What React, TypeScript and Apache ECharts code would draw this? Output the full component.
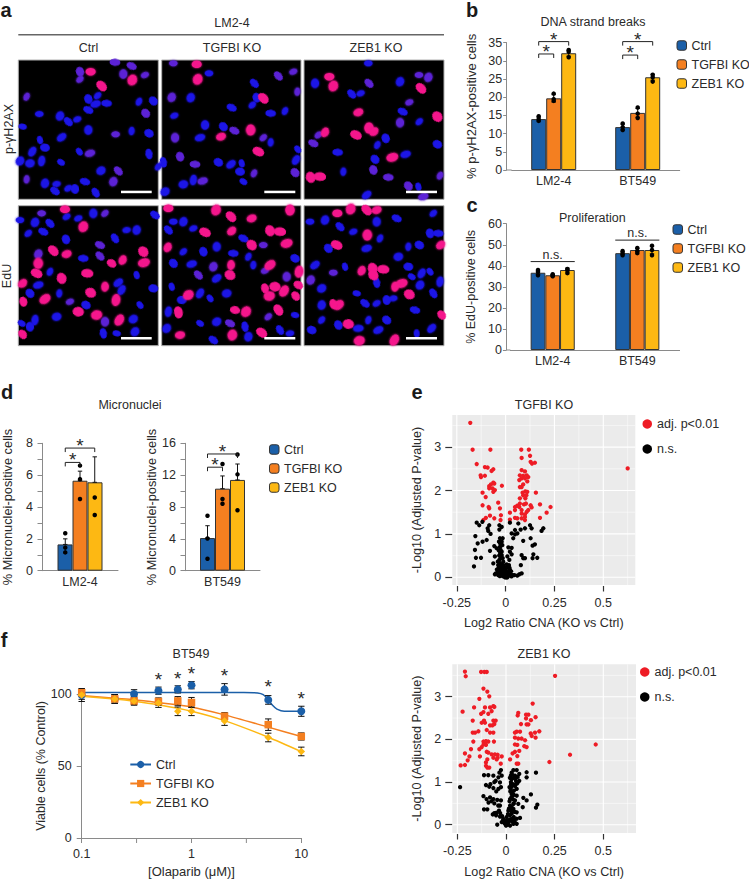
import React, { useEffect, useRef } from "react";
import * as echarts from "echarts";

const FONT = '"Liberation Sans", Arial, sans-serif';
const TXT = "#2a2a2a";
const AX = "#8a8a8a";
const BLUE = "#1b5fa8";
const ORANGE = "#f47f20";
const YELLOW = "#fdb813";

// ---------- panel a: nuclei ----------
const n1Blue = [[118,342],[180,348],[205,365],[232,358],[265,390],[265,330],[293,287],[265,297],[320,310],[417,305],[460,303],[287,312],[395,393],[447,400],[185,412],[120,420],[135,443],[97,455],[238,455],[90,490],[125,483],[183,487],[303,512],[447,462],[68,380],[60,483],[287,578],[170,552],[135,550],[165,573],[205,565],[225,567],[255,545],[475,500]];
const n1Purple = [[347,403],[340,545],[355,513],[435,225],[370,222],[395,198],[240,238],[240,215],[345,187],[80,290],[437,340],[270,460],[80,538]];
const n1Magenta = [[272,215],[397,240],[305,258]];
const n2Blue = [[627,220],[572,293],[763,250],[523,347],[615,375],[695,323],[757,315],[770,293],[812,340],[855,333],[670,380],[600,413],[812,427],[655,487],[693,493],[725,490],[720,515],[888,480],[893,448],[550,553],[580,540],[730,545],[495,575],[490,487]];
const n2Purple = [[520,190],[515,292],[835,228],[880,215],[525,413],[703,392],[790,413],[540,470],[585,493],[762,520],[885,518],[608,543],[892,275]];
const n2Magenta = [[590,193],[593,238],[790,295],[663,410],[752,390],[775,455]];
const n3Blue = [[1105,190],[1200,245],[1055,282],[1082,280],[945,250],[1208,335],[1258,365],[1157,415],[1013,457],[1132,435],[1125,478],[1217,463],[1030,515],[1312,433],[1100,585],[1255,560]];
const n3Purple = [[1257,225],[1285,232],[1107,250],[1228,307],[1200,368],[940,430],[955,405],[1120,510],[1165,532],[1320,527],[1225,558],[1270,590]];
const n3Magenta = [[988,230],[1000,258],[1263,265],[1075,337],[1107,384],[1068,405],[1122,395],[932,532],[960,530],[975,397],[1312,350],[1177,472]];
const n4Blue = [[60,660],[105,667],[150,670],[235,655],[280,640],[130,695],[85,700],[198,718],[250,775],[150,815],[90,880],[115,855],[178,880],[258,915],[355,848],[410,825],[460,865],[365,870],[420,915],[170,950],[105,960],[65,970],[400,957],[310,1000],[350,1000],[405,995],[345,715],[380,690],[410,690],[465,645],[200,650],[90,980]];
const n4Purple = [[125,640],[115,762],[300,768],[210,905],[315,965],[300,735],[315,640]];
const n4Magenta = [[195,628],[250,680],[160,752],[200,762],[115,790],[110,820],[68,850],[185,835],[262,820],[368,780],[430,755],[432,788],[315,860],[272,878],[135,897],[70,905],[235,935],[358,960],[68,1003],[290,945],[348,900],[335,790]];
const n5Blue = [[520,665],[550,665],[505,690],[580,685],[650,740],[730,715],[550,755],[610,755],[700,760],[745,770],[520,790],[575,792],[760,795],[885,775],[650,835],[515,860],[545,900],[600,880],[630,895],[680,880],[505,935],[600,970],[650,965],[735,980],[885,945],[500,985],[840,990],[870,1000],[745,1010],[640,1020]];
const n5Purple = [[790,735],[640,800],[595,825],[795,812],[860,830],[690,970],[805,950]];
const n5Magenta = [[505,625],[648,630],[693,650],[755,655],[870,630],[615,697],[695,693],[810,692],[840,695],[503,742],[755,735],[860,730],[693,795],[690,825],[810,795],[795,865],[825,860],[852,873],[887,888],[808,888],[897,815],[895,855],[565,885],[535,937],[705,930],[738,935],[835,930],[540,1005],[697,1005],[785,998]];
const n6Blue = [[930,665],[975,660],[1020,680],[1060,695],[1130,665],[1190,655],[1300,640],[1290,700],[1315,700],[1140,715],[985,745],[1100,745],[1225,740],[1258,735],[945,795],[1035,800],[1225,800],[1265,820],[1290,815],[1195,770],[1320,845],[1235,830],[965,865],[1130,848],[1070,880],[1260,855],[1300,880],[1180,895],[965,915],[1095,910],[1130,910],[1160,900],[1245,930],[965,960],[1015,975],[1075,985],[1105,960],[1160,960],[1135,990],[1250,1000],[935,990],[1295,985]];
const n6Purple = [[1000,818],[932,840]];
const n6Magenta = [[1012,640],[1052,627],[1100,630],[1130,630],[1102,705],[1010,735],[1322,735],[1118,805],[1150,808],[1085,812],[1120,825],[1205,850],[1185,860],[1228,883],[1015,915],[1000,912],[1045,972],[1183,1020],[1325,945],[1078,1022]];

// ---------- panels b, c, d ----------
const seriesNames = ["Ctrl", "TGFBI KO", "ZEB1 KO"];
const barColors = [BLUE, ORANGE, YELLOW];
const cellLines = ["LM2-4", "BT549"];

const bMeans = [[14, 11.8], [19.7, 15.7], [32.1, 25.5]];
const bErrs = [[0.5, 0.8], [1, 1.2], [0.8, 0.8]];
const bDots = [[[13.5, 14, 14.8], [11, 11.8, 12.8]], [[19, 19.5, 21], [14.3, 15.5, 17.2]], [[31, 32.5, 33], [24.3, 25.5, 26.2]]];
const bBrackets = [[0, 0, 1, 31.9, "*"], [0, 0, 2, 35.3, "*"], [1, 0, 1, 31.6, "*"], [1, 0, 2, 35.3, "*"]];

const cMeans = [[36.7, 46], [35.5, 47.5], [38, 47.5]];
const cErrs = [[0.8, 0.7], [0.4, 0.8], [0.9, 1.8]];
const cDots = [[[35.5, 37, 38], [45, 46, 47]], [[35, 35.5, 36], [46, 47, 48.5]], [[36.5, 38, 38.5], [45, 47.5, 49.5]]];
const cBrackets = [[0, -0.5, 2.5, 42, "n.s."], [1, -0.5, 2.5, 52.2, "n.s."]];

const dLmMeans = [[1.65], [5.65], [5.55]];
const dLmErrs = [[0.35], [0.6], [1.6]];
const dLmDots = [[[1.15, 1.45, 2.35]], [[4.5, 5.75, 6.6]], [[3.5, 4.6, 8.6]]];
const dLmBrackets = [[0, 0, 1, 6.8, "*"], [0, 0, 2, 7.7, "*"]];

const dBtMeans = [[4.1], [10.3], [11.4]];
const dBtErrs = [[1.55], [1.6], [2]];
const dBtDots = [[[1.5, 4.05, 6.9]], [[8.4, 9, 13.4]], [[7.6, 12.1, 14.6]]];
const dBtBrackets = [[0, 0, 1, 13, "*"], [0, 0, 2, 14.66, "*"]];

// ---------- panel e ----------
const e1Sig = [[-.181,3.56],[-.169,2.94],[-.078,2.94],[.080,2.94],[.119,2.94],[.082,2.75],[.125,2.80],[-.148,2.61],[-.106,2.54],[-.092,2.53],[-.063,2.49],[-.072,2.45],[.135,2.62],[.150,2.64],[.128,2.66],[-.128,2.35],[-.106,2.34],[-.126,2.31],[.082,2.47],[.099,2.44],[.073,2.35],[.090,2.34],[.108,2.35],[.116,2.31],[.082,2.28],[.099,2.28],[.070,2.24],[.111,2.21],[-.063,2.18],[-.075,2.14],[-.084,2.10],[-.058,2.16],[-.019,2.11],[-.084,2.05],[-.067,2.05],[.090,2.14],[.082,2.08],[.073,2.08],[-.055,2.01],[-.063,1.97],[-.118,1.95],[.101,1.98],[.087,1.95],[.111,1.97],[.155,1.95],[.090,1.89],[.106,1.89],[-.102,1.85],[-.038,1.72],[.073,1.82],[.101,1.82],[-.118,1.66],[-.087,1.62],[-.084,1.59],[-.029,1.59],[.048,1.62],[.060,1.65],[.073,1.70],[.094,1.68],[.104,1.70],[.128,1.66],[.133,1.61],[.176,1.68],[.230,1.62],[.070,1.62],[.048,1.55],[.082,1.55],[.108,1.51],[.116,1.55],[.022,1.49],[.210,1.49],[-.024,1.43],[.082,1.47],[.099,1.45],[-.080,1.42],[-.101,1.37],[-.114,1.32],[-.058,1.36],[.176,1.37],[.048,1.37],[.060,1.36],[-.026,1.32],[.022,1.33],[.082,1.36],[.099,1.32],[.099,1.39],[.625,2.51]];
const e1Ns = [[-.148,1.26],[-.135,1.20],[-.119,1.28],[-.084,1.20],[-.092,1.13],[-.089,1.07],[-.077,1.00],[-.032,1.20],[-.020,1.16],[-.032,1.10],[.022,1.26],[.065,1.24],[.125,1.20],[.133,1.13],[.099,1.13],[.077,1.10],[.048,1.09],[.031,1.01],[.060,1.01],[.193,1.13],[.184,1.07],[-.155,.95],[-.097,.86],[-.118,.82],[-.143,.78],[-.157,.63],[-.152,.45],[-.126,.45],[-.162,.25],[-.080,.61],[-.058,.72],[-.029,.90],[-.020,.82],[-.034,.82],[-.015,.90],[-.029,.70],[-.046,.67],[-.055,.48],[-.063,.32],[-.026,.63],[-.020,.51],[-.032,.40],[-.038,.28],[-.020,.21],[-.055,.07],[-.038,.05],[-.020,.05],[-.003,0],[.005,.04],[.014,.09],[-.003,.13],[.022,.17],[.017,.28],[.019,.40],[-.012,.36],[-.015,.44],[.036,.05],[.060,.04],[.070,.07],[.082,.09],[.078,.28],[.090,.44],[.099,.44],[.082,.51],[.138,.44],[.142,.53],[.162,.45],[.090,.84],[.128,.90],[.150,.76],[.138,.73],[.039,.90],[.048,.99],[.014,.69],[.031,.68],[.031,.53],[.009,.48],[.022,.59],[-.029,.09],[-.012,.08],[.002,.21],[-.029,.25],[-.012,.28],[-.020,.59],[-.017,.74],[.019,.05],[.009,0],[-.009,.02],
  [-.028,.78],[-.022,.74],[-.035,.62],[-.028,.56],[-.033,.5],[-.024,.45],[-.04,.36],[-.03,.33],[-.022,.3],[-.035,.22],[-.045,.18],[-.014,.2],[-.028,.15],[-.04,.12],[-.05,.09],[-.012,.16],[-.02,.12],[-.005,.06],[-.015,.03],[-.03,.03],[0,.1],[.008,.14],[.012,.03],[.025,.08],[.03,.02],[.045,.05],[.02,.22],[.01,.25],[.005,.3],[-.006,.22],[-.01,.09],[0,.02],[.004,0],[.015,.12],[.028,.14]];
const e2Sig = [[-.211,3.59],[-.207,3.48],[-.128,3.58],[-.111,3.58],[-.099,3.58],[.252,3.49],[-.116,3.19],[-.096,3.12],[-.086,3.01],[-.137,2.95],[-.164,2.75],[-.223,2.65],[-.108,2.75],[-.082,2.75],[-.065,2.78],[-.060,2.76],[-.116,2.64],[-.128,2.60],[-.091,2.60],[-.074,2.66],[.137,2.84],[.063,2.62],[.060,2.56],[.103,2.58],[.115,2.58],[.103,2.49],[.128,2.45],[.152,2.52],[-.171,2.44],[-.113,2.44],[-.125,2.39],[-.108,2.39],[-.065,2.44],[-.053,2.44],[-.060,2.36],[-.082,2.33],[-.070,2.33],[.077,2.36],[.106,2.35],[.115,2.35],[-.099,2.22],[-.171,2.16],[-.159,2.16],[-.142,2.19],[-.082,2.16],[-.065,2.16],[.055,2.18],[.046,2.16],[.072,2.18],[.127,2.14],[.149,2.16],[.171,2.19],[.132,2.08],[.152,2.04],[.046,2.04],[.063,2.02],[.080,2.02],[.098,1.98],[.461,1.88],[-.168,1.95],[-.116,1.95],[-.103,1.96],[-.091,1.95],[-.062,1.95],[-.116,1.88],[-.103,1.87],[.046,1.88],[.058,1.87],[.094,1.84],[.106,1.82],[-.125,1.82],[-.137,1.77],[-.099,1.71],[-.091,1.69],[-.180,1.77],[-.211,1.67],[-.188,1.60],[-.134,1.60],[-.074,1.65],[-.057,1.65],[-.043,1.64],[-.022,1.60],[-.043,1.57],[-.065,1.57],[.046,1.71],[.034,1.67],[.068,1.73],[.058,1.61],[.329,1.64],[-.197,1.51],[-.096,1.53],[-.048,1.53],[.021,1.53],[-.103,1.46],[-.027,1.43],[.055,1.43],[.063,1.43],[.223,1.47],[-.233,1.39],[-.211,1.40],[-.103,1.38],[-.096,1.34],[-.086,1.34]];
const e2Ns = [[-.236,.88],[-.026,1.28],[-.034,1.22],[.038,1.28],[.055,1.28],[.154,1.22],[.106,1.23],[.106,1.11],[-.113,1.16],[-.091,1.16],[-.065,1.15],[-.039,1.11],[-.022,1.15],[-.053,1.03],[-.031,.99],[-.103,.93],[-.086,.89],[-.065,.86],[-.039,.84],[-.026,.88],[-.116,.67],[-.082,.64],[-.065,.60],[-.045,.58],[-.026,.57],[-.031,.45],[-.113,.36],[-.096,.36],[-.036,.33],[-.068,.24],[-.051,.22],[-.031,.19],[-.045,0],[.029,1.22],[.046,1.15],[.068,1.19],[.029,1.07],[.051,1.03],[.068,1.03],[.026,.95],[.046,.91],[.058,.97],[.024,.84],[.041,.80],[.055,.84],[.029,.72],[.055,.68],[.021,.60],[.046,.57],[.089,.63],[.106,.57],[.128,.71],[.086,.41],[.161,.47],[.154,.40],[.063,.49],[.021,.45],[.038,.37],[.012,.33],[.055,.29],[.029,.26],[.072,.16],[.055,.14],[.029,.14],[.003,.18],[-.014,.14],[.012,.06],[-.005,.02],[0,-.02],[.038,.02],[.055,.02],[.021,-.02],[-.022,.06],[.038,.49],[.029,.41],
  [.02,1.1],[.025,1],[.03,.9],[.035,.95],[.018,.88],[.022,.78],[.032,.75],[.04,.7],[.028,.65],[.035,.6],[.018,.55],[.04,.5],[.015,.38],[.025,.35],[.045,.3],[.03,.3],[.01,.25],[.02,.22],[.04,.18],[.015,.1],[.02,.12],[.03,.08],[.04,.1],[.045,.06],[.005,.1],[-.005,.08],[-.01,.05],[0,0],[.01,0],[.008,.05],[-.06,1],[-.08,.95],[-.05,.78],[-.075,.55],[-.09,.52],[-.1,.6],[-.06,.5],[-.04,.45],[-.05,.28],[-.06,.27],[-.03,.27],[-.02,.2],[.025,1.15],[.04,1.1],[.03,1.18],[.05,1.1],[.06,1.12],[.05,.95],[-.015,.1]];
const eXTicks = [-0.25, 0, 0.25, 0.5];
const eXMinor = [-0.125, 0.125, 0.375, 0.625];
const eYTicks = [0, 1, 2, 3];
const eYMinor = [0.5, 1.5, 2.5, 3.5];

// ---------- panel f ----------
const fDoses = [0.1, 0.2, 0.3, 0.5, 0.75, 1, 2, 5, 10];
const fCtrl = [99.3, 96.6, 100, 102.3, 103.2, 106.1, 103.2, 95.9, 88];
const fCtrlErr = [4.5, 3, 3, 2.5, 2.5, 2.5, 4, 3, 3.5];
const fTgfbi = [100.9, 96.6, 95.2, 94.8, 95.2, 94.1, 84.6, 78.7, 70.5];
const fTgfbiErr = [2.5, 3, 2.5, 2.5, 3, 3.5, 2.5, 4, 2.5];
const fZeb = [99.3, 96.6, 95.2, 93.7, 88, 88, 81.2, 69.8, 60.1];
const fZebErr = [3, 3, 3, 3, 3, 3, 3, 3, 3];
const fCtrlFitX = [0.1, 0.3, 1, 3, 4, 4.5, 5, 5.5, 6, 7, 8, 10];
const fCtrlFitY = [101, 101, 101, 101, 100.7, 99.5, 96, 92, 89.5, 88, 88, 88];
const fFitX = [0.1, 0.2, 0.3, 0.5, 1, 2, 5, 10];
const fTgfbiFit = [98.9, 97, 96, 94, 91, 85.5, 77, 70.5];
const fZebFit = [98.5, 96.5, 95, 92.5, 88, 81.5, 70, 60];
const fStarDoses = [0.5, 0.75, 1, 2, 5, 10];
const fStarY = [110, 111, 114, 113, 105, 97];
const fMidTicks = [0.316, 3.16];

const grids: any[] = [];
const xAxes: any[] = [];
const yAxes: any[] = [];
const series: any[] = [];
const graphics: any[] = [];

function addText(text: string, x: number, y: number, extra: any = {}, rotation = 0) {
  graphics.push({
    type: "text", x, y, rotation, z: 100,
    style: { text, x: 0, y: 0, textAlign: "center", textVerticalAlign: "middle", fontFamily: FONT, fontSize: 12.5, fill: TXT, ...extra },
  });
}
function addLine(x1: number, y1: number, x2: number, y2: number, stroke: string, lineWidth = 1) {
  graphics.push({ type: "line", z: 100, shape: { x1, y1, x2, y2 }, style: { stroke, lineWidth } });
}

function nucleiPanel(rect: number[], xr: number[], yr: number[], blue: number[][], purple: number[][], magenta: number[][]) {
  const g = grids.length;
  grids.push({ left: rect[0], top: rect[1], width: rect[2], height: rect[3], show: true, backgroundColor: "#000", borderColor: "#b0b0b0", borderWidth: 1 });
  const xi = xAxes.length, yi = yAxes.length;
  xAxes.push({ type: "value", gridIndex: g, show: false, min: xr[0], max: xr[1] });
  yAxes.push({ type: "value", gridIndex: g, show: false, min: yr[0], max: yr[1], inverse: true });
  ([[blue, "#1a12e6", 0], [purple, "#5c20d6", 0], [magenta, "#f5148c", 1.5]] as any[]).forEach(([data, color, extra]) => {
    series.push({
      type: "scatter", xAxisIndex: xi, yAxisIndex: yi, data, silent: true, symbol: "circle", z: 2,
      symbolSize: (_: any, p: any) => [8.5 + extra + ((p.dataIndex * 7) % 3), 6 + extra + ((p.dataIndex * 5) % 3)],
      symbolRotate: (_: any, p: any) => (p.dataIndex * 67) % 180,
      itemStyle: { color, opacity: 1, shadowBlur: 2, shadowColor: color },
    });
  });
}

function barPanel(c: any) {
  const g = grids.length;
  grids.push({ left: c.left, top: c.top, width: c.width, height: c.height });
  const n = c.cats.length;
  const xc = xAxes.length;
  xAxes.push({
    type: "category", gridIndex: g, data: c.cats,
    axisLine: { onZero: false, lineStyle: { color: AX, width: 1 } }, axisTick: { show: false },
    axisLabel: { color: TXT, fontFamily: FONT, fontSize: 12.5, margin: c.labelMargin ?? 5 },
  });
  const xv = xAxes.length;
  xAxes.push({ type: "value", gridIndex: g, show: false, min: -0.5, max: n - 0.5, axisLine: { onZero: false } });
  const yi = yAxes.length;
  yAxes.push({
    type: "value", gridIndex: g, min: 0, max: c.yMax, interval: c.yInt, offset: c.yOffset ?? 0,
    name: c.yName, nameLocation: "middle", nameGap: c.nameGap, nameMoveOverlap: false,
    nameTextStyle: { color: TXT, fontFamily: FONT, fontSize: c.nameSize ?? 12.5 },
    axisLine: { show: true, onZero: false, lineStyle: { color: AX, width: 1 } },
    axisTick: { show: true, length: c.tickLen ?? 3.5, lineStyle: { color: AX } },
    minorTick: c.minor ? { show: true, splitNumber: 2, length: c.tickLen ?? 3.5, lineStyle: { color: AX } } : { show: false },
    splitLine: { show: false },
    axisLabel: { color: TXT, fontFamily: FONT, fontSize: 12.5, margin: c.yMargin ?? 4.5 },
  });
  const dx = c.barWidth / (c.width / n);
  c.means.forEach((vals: number[], s: number) => {
    series.push({
      type: "bar", name: seriesNames[s], xAxisIndex: xc, yAxisIndex: yi, data: vals, barWidth: c.barWidth, barGap: 0, silent: true, z: 2,
      itemStyle: { color: barColors[s], borderColor: "#333", borderWidth: 1 },
    });
  });
  const eb: number[][] = [];
  c.errs.forEach((vals: number[], s: number) => vals.forEach((e: number, k: number) => {
    eb.push([k + (s - 1) * dx, c.upOnly ? c.means[s][k] : c.means[s][k] - e, c.means[s][k] + e]);
  }));
  series.push(errorSeries(xv, yi, eb, 2.2, 3));
  const dots: number[][] = [];
  c.dots.forEach((bySer: number[][], s: number) => bySer.forEach((list: number[], k: number) => list.forEach((v: number) => {
    dots.push([k + (s - 1) * dx, v]);
  })));
  series.push({ type: "scatter", xAxisIndex: xv, yAxisIndex: yi, data: dots, symbolSize: 4.5, silent: true, z: 4, itemStyle: { color: "#000", opacity: 1 } });
  const br = c.brackets;
  series.push({
    type: "custom", xAxisIndex: xv, yAxisIndex: yi, silent: true, z: 5, clip: false,
    data: br.map((b: any[]) => [b[0] + (b[1] - 1) * dx, b[0] + (b[2] - 1) * dx, b[3]]),
    renderItem: (p: any, api: any) => {
      const a = api.coord([api.value(0), api.value(2)]);
      const e = api.coord([api.value(1), api.value(2)]);
      const label = br[p.dataIndex][4];
      const star = label === "*";
      const drop = star ? 4 : 0;
      return {
        type: "group",
        children: [
          { type: "polyline", shape: { points: [[a[0], a[1] + drop], [a[0], a[1]], [e[0], e[1]], [e[0], e[1] + drop]] }, style: { stroke: "#222", lineWidth: 1, fill: "none" } },
          { type: "text", style: { text: label, x: (a[0] + e[0]) / 2, y: a[1] + (star ? -2.5 : -7), textAlign: "center", textVerticalAlign: "middle", fontFamily: FONT, fontSize: star ? 19 : 12.5, fill: TXT } },
        ],
      };
    },
  });
}

function errorSeries(xi: number, yi: number, data: number[][], cap: number, z: number) {
  return {
    type: "custom", xAxisIndex: xi, yAxisIndex: yi, silent: true, z, clip: false, data,
    renderItem: (_: any, api: any) => {
      const lo = api.coord([api.value(0), api.value(1)]);
      const hi = api.coord([api.value(0), api.value(2)]);
      const st = { stroke: "#111", lineWidth: 1 };
      return {
        type: "group",
        children: [
          { type: "line", shape: { x1: lo[0], y1: lo[1], x2: hi[0], y2: hi[1] }, style: st },
          { type: "line", shape: { x1: hi[0] - cap, y1: hi[1], x2: hi[0] + cap, y2: hi[1] }, style: st },
          { type: "line", shape: { x1: lo[0] - cap, y1: lo[1], x2: lo[0] + cap, y2: lo[1] }, style: st },
        ],
      };
    },
  };
}

function volcano(rect: number[], xr: number[], yr: number[], sig: number[][], ns: number[][], nameGapY: number, nameGapX: number) {
  const g = grids.length;
  grids.push({ left: rect[0], top: rect[1], width: rect[2], height: rect[3], show: true, backgroundColor: "#ebebeb", borderWidth: 0 });
  const xi = xAxes.length, yi = yAxes.length;
  const label = { color: TXT, fontFamily: FONT, fontSize: 12.5 };
  xAxes.push({
    type: "value", gridIndex: g, min: xr[0], max: xr[1], offset: 1,
    name: "Log2 Ratio CNA (KO vs Ctrl)", nameLocation: "middle", nameGap: nameGapX, nameMoveOverlap: false,
    nameTextStyle: { ...label, fontSize: 12.6 },
    axisLine: { show: false, onZero: false }, splitLine: { show: false },
    axisTick: { show: true, length: 5.5, lineStyle: { color: "#333", width: 1.2 }, customValues: eXTicks },
    axisLabel: { ...label, margin: 10, customValues: eXTicks, formatter: (v: number) => String(v) },
  });
  yAxes.push({
    type: "value", gridIndex: g, min: yr[0], max: yr[1],
    name: "-Log10 (Adjusted P-value)", nameLocation: "middle", nameGap: nameGapY, nameMoveOverlap: false,
    nameTextStyle: { ...label, fontSize: 12.6 },
    axisLine: { show: false, onZero: false }, splitLine: { show: false },
    axisTick: { show: true, length: 7, lineStyle: { color: "#333", width: 1.2 }, customValues: eYTicks },
    axisLabel: { ...label, margin: 11, customValues: eYTicks, formatter: (v: number) => String(v) },
  });
  const lines: any[] = [];
  eXMinor.forEach((v) => lines.push([0, v, 0.5]));
  eYMinor.forEach((v) => lines.push([1, v, 0.5]));
  eXTicks.forEach((v) => lines.push([0, v, 1.1]));
  eYTicks.forEach((v) => lines.push([1, v, 1.1]));
  series.push({
    type: "custom", xAxisIndex: xi, yAxisIndex: yi, silent: true, z: 1, data: lines,
    renderItem: (_: any, api: any) => {
      const vert = api.value(0) === 0;
      const v = api.value(1);
      const a = api.coord(vert ? [v, yr[0]] : [xr[0], v]);
      const b = api.coord(vert ? [v, yr[1]] : [xr[1], v]);
      return { type: "line", shape: { x1: a[0], y1: a[1], x2: b[0], y2: b[1] }, style: { stroke: "#fff", lineWidth: api.value(2) } };
    },
  });
  series.push({ type: "scatter", name: "adj. p<0.01", xAxisIndex: xi, yAxisIndex: yi, data: sig, symbolSize: 4.3, silent: true, z: 3, itemStyle: { color: "#ee1c25", opacity: 1 } });
  series.push({ type: "scatter", name: "n.s.", xAxisIndex: xi, yAxisIndex: yi, data: ns, symbolSize: 4.3, silent: true, z: 3, itemStyle: { color: "#000", opacity: 1 } });
}

function panelF() {
  const g = grids.length;
  grids.push({ left: 81.7, top: 694, width: 219.6, height: 147 });
  const xi = xAxes.length, yi = yAxes.length;
  const label = { color: TXT, fontFamily: FONT, fontSize: 12.5 };
  xAxes.push({
    type: "log", logBase: 10, gridIndex: g, min: 0.1, max: 10,
    name: "[Olaparib (μM)]", nameLocation: "middle", nameGap: 27, nameMoveOverlap: false, nameTextStyle: { ...label, fontSize: 13 },
    axisLine: { onZero: false, lineStyle: { color: AX } }, axisTick: { show: true, length: 5, lineStyle: { color: AX } },
    minorTick: { show: false }, minorSplitLine: { show: false },
    splitLine: { show: false }, axisLabel: { ...label, margin: 9, formatter: (v: number) => String(v) },
  });
  yAxes.push({
    type: "value", gridIndex: g, min: 0, max: 100, interval: 50,
    name: "Viable cells (% Control)", nameLocation: "middle", nameGap: 34, nameMoveOverlap: false, nameTextStyle: { ...label },
    axisLine: { show: true, onZero: false, lineStyle: { color: AX } }, axisTick: { show: true, length: 5, lineStyle: { color: AX } },
    splitLine: { show: false }, axisLabel: { ...label, margin: 10 },
  });
  series.push({
    type: "custom", xAxisIndex: xi, yAxisIndex: yi, silent: true, z: 1, clip: false,
    data: fMidTicks.map((d) => [d, 0]),
    renderItem: (_: any, api: any) => {
      const p = api.coord([api.value(0), 0]);
      return { type: "line", shape: { x1: p[0], y1: p[1], x2: p[0], y2: p[1] + 5 }, style: { stroke: AX, lineWidth: 1 } };
    },
  });
  const defs: any[] = [
    ["f:Ctrl", BLUE, "circle", 8, fCtrlFitX, fCtrlFitY, fCtrl, fCtrlErr],
    ["f:TGFBI KO", ORANGE, "rect", 7.5, fFitX, fTgfbiFit, fTgfbi, fTgfbiErr],
    ["f:ZEB1 KO", YELLOW, "diamond", 7.5, fFitX, fZebFit, fZeb, fZebErr],
  ];
  defs.forEach(([name, color, symbol, size, fx, fy, means, errs]) => {
    series.push({
      type: "line", name, xAxisIndex: xi, yAxisIndex: yi, silent: true, z: 2, clip: false,
      data: fx.map((x: number, i: number) => [x, fy[i]]), smooth: 0.25, symbol, showSymbol: false,
      lineStyle: { color, width: 1.5 }, itemStyle: { color },
    });
    series.push(errorSeries(xi, yi, fDoses.map((d, i) => [d, means[i] - errs[i], means[i] + errs[i]]), 3.2, 3));
  });
  defs.forEach(([_, color, symbol, size, __, ___, means]) => {
    series.push({
      type: "scatter", xAxisIndex: xi, yAxisIndex: yi, silent: true, z: 4, clip: false,
      data: fDoses.map((d, i) => [d, means[i]]), symbol, symbolSize: size, itemStyle: { color, opacity: 1 },
    });
  });
  series.push({
    type: "custom", xAxisIndex: xi, yAxisIndex: yi, silent: true, z: 5, clip: false,
    data: fStarDoses.map((d, i) => [d, fStarY[i]]),
    renderItem: (_: any, api: any) => {
      const p = api.coord([api.value(0), api.value(1)]);
      return { type: "text", style: { text: "*", x: p[0], y: p[1], textAlign: "center", textVerticalAlign: "middle", fontFamily: FONT, fontSize: 19, fill: TXT } };
    },
  });
}

function build() {
  const topR = [60, 139.3];
  const botR = [205.7, 140];
  const cols = [[18.3, 140], [161.7, 139.3], [304, 140]];
  const xrs = [[55, 475], [485, 903], [912, 1332]];
  nucleiPanel([cols[0][0], topR[0], cols[0][1], topR[1]], xrs[0], [180, 598], n1Blue, n1Purple, n1Magenta);
  nucleiPanel([cols[1][0], topR[0], cols[1][1], topR[1]], xrs[1], [180, 598], n2Blue, n2Purple, n2Magenta);
  nucleiPanel([cols[2][0], topR[0], cols[2][1], topR[1]], xrs[2], [180, 598], n3Blue, n3Purple, n3Magenta);
  nucleiPanel([cols[0][0], botR[0], cols[0][1], botR[1]], xrs[0], [617, 1037], n4Blue, n4Purple, n4Magenta);
  nucleiPanel([cols[1][0], botR[0], cols[1][1], botR[1]], xrs[1], [617, 1037], n5Blue, n5Purple, n5Magenta);
  nucleiPanel([cols[2][0], botR[0], cols[2][1], botR[1]], xrs[2], [617, 1037], n6Blue, n6Purple, n6Magenta);

  barPanel({ left: 511.7, top: 42.7, width: 168, height: 127.3, cats: cellLines, means: bMeans, errs: bErrs, dots: bDots, brackets: bBrackets, yMax: 35, yInt: 5, yOffset: 5, yName: "% p-γH2AX-positive cells", nameGap: 29, nameSize: 13, barWidth: 15, labelMargin: 4 });
  barPanel({ left: 510.4, top: 223.7, width: 169.2, height: 126.3, cats: cellLines, means: cMeans, errs: cErrs, dots: cDots, brackets: cBrackets, yMax: 60, yInt: 10, yOffset: 4, yName: "% EdU-positive cells", nameGap: 29, barWidth: 14.7, labelMargin: 4 });
  barPanel({ left: 40.7, top: 443.3, width: 77.3, height: 127.4, cats: [cellLines[0]], means: dLmMeans, errs: dLmErrs, dots: dLmDots, brackets: dLmBrackets, yMax: 8, yInt: 2, minor: true, upOnly: true, yName: "% Micronuclei-positive cells", nameGap: 28, nameSize: 12.8, barWidth: 15, labelMargin: 5, tickLen: 4.5, yMargin: 9 });
  barPanel({ left: 185, top: 443.3, width: 75, height: 127.4, cats: [cellLines[1]], means: dBtMeans, errs: dBtErrs, dots: dBtDots, brackets: dBtBrackets, yMax: 16, yInt: 4, minor: true, upOnly: true, yName: "% Micronuclei-positive cells", nameGap: 27, nameSize: 12.8, barWidth: 15, labelMargin: 5, tickLen: 4.5, yMargin: 9 });

  volcano([452.3, 415, 183, 170], [-0.273, 0.664], [-0.177, 3.74], e1Sig, e1Ns, 29, 30);
  volcano([452.3, 664.3, 183.7, 170], [-0.276, 0.668], [-0.194, 3.76], e2Sig, e2Ns, 29, 31);
  panelF();

  // extension of the bar panels' baselines to their y axes
  addLine(506.7, 170, 511.7, 170, AX);
  addLine(506.4, 350, 510.4, 350, AX);

  // panel a annotation
  addText("LM2-4", 232, 22.7);
  addLine(18.3, 34.7, 444, 34.7, "#666", 1.5);
  addText("Ctrl", 88.5, 48);
  addText("TGFBI KO", 232, 48);
  addText("ZEB1 KO", 376, 48);
  addText("p-γH2AX", 8.5, 129, {}, Math.PI / 2);
  addText("EdU", 7, 276, {}, Math.PI / 2);
  [[121, 151.7], [264.3, 295.3], [406, 437]].forEach(([a, b]) => {
    [190.7, 337].forEach((y) => {
      graphics.push({ type: "rect", z: 100, shape: { x: a, y, width: b - a, height: 2.5 }, style: { fill: "#fff" } });
    });
  });

  addText("DNA strand breaks", 593, 22.3);
  addText("Proliferation", 592.3, 218.3);
  addText("Micronuclei", 130, 405);
  addText("TGFBI KO", 544, 405);
  addText("ZEB1 KO", 544, 654.3);
  addText("BT549", 191, 654);

  const letter = { fontWeight: "bold", fontSize: 20, fill: "#1a1a1a" };
  addText("a", 6, 10, letter);
  addText("b", 472, 10, letter);
  addText("c", 472, 205, letter);
  addText("d", 7, 392, letter);
  addText("e", 417, 392, letter);
  addText("f", 4, 640, letter);

  const legendBase = { orient: "vertical", selectedMode: false, textStyle: { color: TXT, fontFamily: FONT, fontSize: 12.5 }, padding: 0 };
  const barLegend = (left: number, top: number) => ({
    ...legendBase, left, top, data: seriesNames, itemWidth: 9.5, itemHeight: 9.5, itemGap: 6,
    itemStyle: { borderColor: "#333", borderWidth: 1 },
  });
  const voLegend = (left: number, top: number) => ({
    ...legendBase, left, top, data: ["adj. p<0.01", "n.s."], itemWidth: 9.5, itemHeight: 9.5, itemGap: 12,
  });
  const legend = [
    barLegend(676.5, 39),
    barLegend(672.5, 223),
    barLegend(269, 443),
    voLegend(642.5, 417.5),
    voLegend(640, 665.5),
    {
      ...legendBase, left: 129.3, top: 758, data: ["f:Ctrl", "f:TGFBI KO", "f:ZEB1 KO"], itemWidth: 20.7, itemHeight: 9, itemGap: 6,
      formatter: (n: string) => n.replace("f:", ""),
    },
  ];

  return {
    animation: false,
    backgroundColor: "#fff",
    textStyle: { fontFamily: FONT },
    tooltip: { show: false },
    legend,
    grid: grids,
    xAxis: xAxes,
    yAxis: yAxes,
    series,
    graphic: graphics,
  };
}

export default function App() {
  const ref = useRef<HTMLDivElement>(null);
  useEffect(() => {
    document.body.style.margin = "0";
    const chart = echarts.init(ref.current!, null, { renderer: "svg", width: 749, height: 879 });
    grids.length = xAxes.length = yAxes.length = series.length = graphics.length = 0;
    chart.setOption(build() as any);
    return () => chart.dispose();
  }, []);
  return <div ref={ref} style={{ width: 749, height: 879, position: "absolute", left: 0, top: 0 }} />;
}
